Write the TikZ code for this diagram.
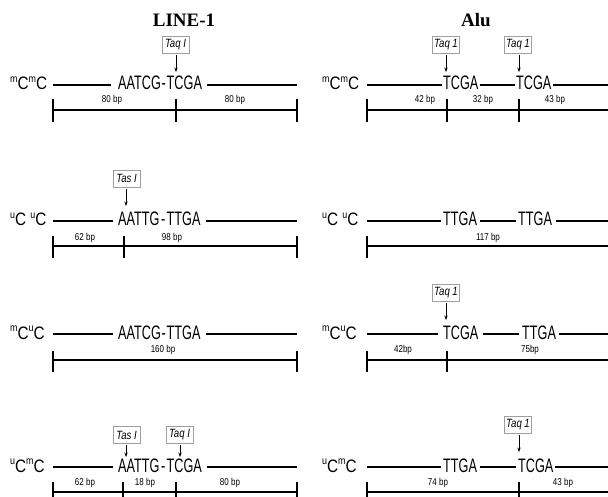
\documentclass[tikz,border=0pt]{standalone}
\usepackage{fontspec}
\setmainfont{Liberation Sans}
\newfontfamily\seqf[FakeStretch=0.65]{Liberation Sans}
\newfontfamily\labf[FakeStretch=0.85]{Liberation Sans}
\newfontfamily\bpf[FakeStretch=0.8]{Liberation Sans}
\newfontfamily\enzf[FakeStretch=0.8]{Liberation Sans}
\newfontfamily\titf{Liberation Serif}
\usetikzlibrary{arrows.meta}
\newcommand\mysup[1]{\raisebox{7.3pt}{\fontsize{10.5}{11}\selectfont #1}}
\begin{document}
\begin{tikzpicture}[x=1pt,y=-1pt,
  title/.style={font=\titf\bfseries\fontsize{19}{21}\selectfont, inner sep=0pt},
  lab/.style={font=\labf\fontsize{18}{20}\selectfont, inner sep=0pt, anchor=base west},
  seq/.style={font=\seqf\fontsize{19.5}{21}\selectfont, inner sep=0pt, anchor=base west},
  bp/.style={font=\bpf\fontsize{10}{11}\selectfont, inner sep=0pt},
  enz/.style={draw=gray!75, line width=0.6pt, fill=white, font=\enzf\itshape\fontsize{12}{13}\selectfont,
              inner sep=1pt, minimum width=27pt, minimum height=17pt},
  strand/.style={line width=1.1pt},
  bar/.style={line width=1.2pt},
  cut/.style={-{Stealth[length=4.5pt,width=3.4pt]}, line width=0.7pt, shorten <=1.5pt}]
\useasboundingbox (0,0) rectangle (608,497);

% titles
\node[title] (tL) at (184,20) {LINE-1};
\node[title] (tR) at (476,20) {Alu};

% ================= LEFT: LINE-1 =================
% row 1
\node[lab] (l1) at (10,90) {\mysup{m}C\mysup{m}C};
\coordinate (l1a) at (53,85);
\coordinate (l1b) at (297,85);
\node[seq] (l1s) at (118,90) {AATCG\kern0.8pt-\kern0.8pt TCGA};
\draw[strand, shorten >=7pt] (l1a) -- (l1a -| l1s.west);
\draw[strand, shorten <=5pt] (l1a -| l1s.east) -- (l1b);
\node[enz] (e11) at (175.5,44.5) {Taq I};
\coordinate (e11t) at (176,72);
\draw[cut] (e11t |- e11.south) -- (e11t);
\coordinate (b1a) at (53,110);
\coordinate (b1m) at (176,110);
\coordinate (b1b) at (297,110);
\draw[bar] (b1a) -- (b1b);
\draw[bar] (b1a) +(0,-11) -- +(0,12);
\draw[bar] (b1m) +(0,-11) -- +(0,12);
\draw[bar] (b1b) +(0,-11) -- +(0,12);
\node[bp] (n11) at (112,100) {80 bp};
\node[bp] (n12) at (235,100) {80 bp};

% row 2
\node[lab] (l2) at (10,226) {\mysup{u}C \mysup{u}C};
\coordinate (l2a) at (53,221);
\coordinate (l2b) at (297,221);
\node[seq] (l2s) at (118,226) {AATTG\kern1.5pt-\kern1.5pt TTGA};
\draw[strand, shorten >=5pt] (l2a) -- (l2a -| l2s.west);
\draw[strand, shorten <=5pt] (l2a -| l2s.east) -- (l2b);
\node[enz] (e21) at (126.5,178.5) {Tas I};
\coordinate (e21t) at (126,206);
\draw[cut] (e21t |- e21.south) -- (e21t);
\coordinate (b2a) at (53,246);
\coordinate (b2m) at (124,246);
\coordinate (b2b) at (297,246);
\draw[bar] (b2a) -- (b2b);
\draw[bar] (b2a) +(0,-10) -- +(0,12);
\draw[bar] (b2m) +(0,-10) -- +(0,12);
\draw[bar] (b2b) +(0,-10) -- +(0,12);
\node[bp] (n21) at (85,238) {62 bp};
\node[bp] (n22) at (172,238) {98 bp};

% row 3
\node[lab] (l3) at (10,339) {\mysup{m}C\mysup{u}C};
\coordinate (l3a) at (53,334);
\coordinate (l3b) at (297,334);
\node[seq] (l3s) at (118,339) {AATCG\kern0.8pt-\kern0.8pt TTGA};
\draw[strand, shorten >=5pt] (l3a) -- (l3a -| l3s.west);
\draw[strand, shorten <=5pt] (l3a -| l3s.east) -- (l3b);
\coordinate (b3a) at (53,360);
\coordinate (b3b) at (297,360);
\draw[bar] (b3a) -- (b3b);
\draw[bar] (b3a) +(0,-9) -- +(0,12);
\draw[bar] (b3b) +(0,-9) -- +(0,12);
\node[bp] (n31) at (163,350) {160 bp};

% row 4
\node[lab] (l4) at (10,472) {\mysup{u}C\mysup{m}C};
\coordinate (l4a) at (53,467);
\coordinate (l4b) at (297,467);
\node[seq] (l4s) at (118,472) {AATTG\kern1.5pt-\kern1.5pt TCGA};
\draw[strand, shorten >=5pt] (l4a) -- (l4a -| l4s.west);
\draw[strand, shorten <=5pt] (l4a -| l4s.east) -- (l4b);
\node[enz] (e41) at (126.5,435) {Tas I};
\node[enz] (e42) at (179.5,435) {Taq I};
\coordinate (e41t) at (126,457);
\coordinate (e42t) at (180,457);
\draw[cut] (e41t |- e41.south) -- (e41t);
\draw[cut] (e42t |- e42.south) -- (e42t);
\coordinate (b4a) at (53,492);
\coordinate (b4m) at (123,492);
\coordinate (b4n) at (176,492);
\coordinate (b4b) at (297,492);
\draw[bar] (b4a) -- (b4b);
\draw[bar] (b4a) +(0,-10) -- +(0,8);
\draw[bar] (b4m) +(0,-10) -- +(0,8);
\draw[bar] (b4n) +(0,-10) -- +(0,8);
\draw[bar] (b4b) +(0,-10) -- +(0,8);
\node[bp] (n41) at (85,483) {62 bp};
\node[bp] (n42) at (145,483) {18 bp};
\node[bp] (n43) at (230,483) {80 bp};

% ================= RIGHT: Alu =================
% row 1
\node[lab] (r1) at (322,90) {\mysup{m}C\mysup{m}C};
\coordinate (r1a) at (367,85);
\coordinate (r1b) at (608,85);
\node[seq] (r1s1) at (443,90) {TCGA};
\node[seq] (r1s2) at (516,90) {TCGA};
\draw[strand, shorten >=1.5pt] (r1a) -- (r1a -| r1s1.west);
\draw[strand, shorten <=1.5pt, shorten >=1.5pt] (r1a -| r1s1.east) -- (r1a -| r1s2.west);
\draw[strand, shorten <=1.5pt] (r1a -| r1s2.east) -- (r1b);
\node[enz] (f11) at (446,44.5) {Taq 1};
\node[enz] (f12) at (518,44.5) {Taq 1};
\coordinate (f11t) at (446,72);
\coordinate (f12t) at (519,72);
\draw[cut] (f11t |- f11.south) -- (f11t);
\draw[cut] (f12t |- f12.south) -- (f12t);
\coordinate (c1a) at (367,110);
\coordinate (c1m) at (447,110);
\coordinate (c1n) at (519,110);
\coordinate (c1b) at (608,110);
\draw[bar] (c1a) -- (c1b);
\draw[bar] (c1a) +(0,-11) -- +(0,12);
\draw[bar] (c1m) +(0,-11) -- +(0,12);
\draw[bar] (c1n) +(0,-11) -- +(0,12);
\node[bp] (m11) at (425,100) {42 bp};
\node[bp] (m12) at (483,100) {32 bp};
\node[bp] (m13) at (555,100) {43 bp};

% row 2
\node[lab] (r2) at (322,226) {\mysup{u}C \mysup{u}C};
\coordinate (r2a) at (367,221);
\coordinate (r2b) at (608,221);
\node[seq] (r2s1) at (443,226) {TTGA};
\node[seq] (r2s2) at (518,226) {TTGA};
\draw[strand, shorten >=2.5pt] (r2a) -- (r2a -| r2s1.west);
\draw[strand, shorten <=2.5pt, shorten >=2.5pt] (r2a -| r2s1.east) -- (r2a -| r2s2.west);
\draw[strand, shorten <=4pt] (r2a -| r2s2.east) -- (r2b);
\coordinate (c2a) at (367,246);
\coordinate (c2b) at (608,246);
\draw[bar] (c2a) -- (c2b);
\draw[bar] (c2a) +(0,-10) -- +(0,12);
\node[bp] (m21) at (488,238) {117 bp};

% row 3
\node[lab] (r3) at (322,339) {\mysup{m}C\mysup{u}C};
\coordinate (r3a) at (367,334);
\coordinate (r3b) at (608,334);
\node[seq] (r3s1) at (443,339) {TCGA};
\node[seq] (r3s2) at (522,339) {TTGA};
\draw[strand, shorten >=5pt] (r3a) -- (r3a -| r3s1.west);
\draw[strand, shorten <=4pt, shorten >=3pt] (r3a -| r3s1.east) -- (r3a -| r3s2.west);
\draw[strand, shorten <=3pt] (r3a -| r3s2.east) -- (r3b);
\node[enz] (f31) at (446,292.5) {Taq 1};
\coordinate (f31t) at (446,320);
\draw[cut] (f31t |- f31.south) -- (f31t);
\coordinate (c3a) at (367,360);
\coordinate (c3m) at (447,360);
\coordinate (c3b) at (608,360);
\draw[bar] (c3a) -- (c3b);
\draw[bar] (c3a) +(0,-9) -- +(0,12);
\draw[bar] (c3m) +(0,-9) -- +(0,12);
\node[bp] (m31) at (403,350) {42bp};
\node[bp] (m32) at (530,350) {75bp};

% row 4
\node[lab] (r4) at (322,472) {\mysup{u}C\mysup{m}C};
\coordinate (r4a) at (367,467);
\coordinate (r4b) at (608,467);
\node[seq] (r4s1) at (443,472) {TTGA};
\node[seq] (r4s2) at (518,472) {TCGA};
\draw[strand, shorten >=2.5pt] (r4a) -- (r4a -| r4s1.west);
\draw[strand, shorten <=2.5pt, shorten >=2.5pt] (r4a -| r4s1.east) -- (r4a -| r4s2.west);
\draw[strand, shorten <=1.5pt] (r4a -| r4s2.east) -- (r4b);
\node[enz] (f41) at (518,424.5) {Taq 1};
\coordinate (f41t) at (519,452);
\draw[cut] (f41t |- f41.south) -- (f41t);
\coordinate (c4a) at (367,492);
\coordinate (c4m) at (519,492);
\coordinate (c4b) at (608,492);
\draw[bar] (c4a) -- (c4b);
\draw[bar] (c4a) +(0,-10) -- +(0,8);
\draw[bar] (c4m) +(0,-10) -- +(0,8);
\node[bp] (m41) at (438,483) {74 bp};
\node[bp] (m42) at (563,483) {43 bp};
\end{tikzpicture}
\end{document}
